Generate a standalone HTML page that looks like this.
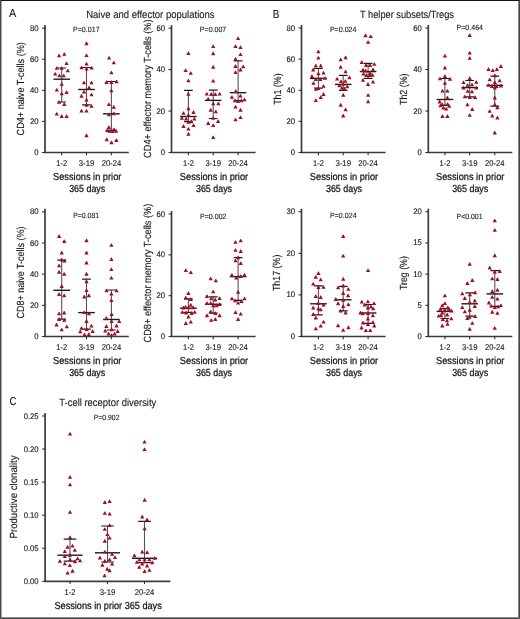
<!DOCTYPE html>
<html><head><meta charset="utf-8"><style>
html,body{margin:0;padding:0;background:#fff;}
body{width:520px;height:619px;overflow:hidden;position:relative;}
svg{position:absolute;left:0;top:0;display:block;will-change:transform;}
text{font-family:"Liberation Sans", sans-serif;text-rendering:geometricPrecision;stroke:#161616;stroke-width:0.25px;}
</style></head><body>
<svg width="520" height="619" viewBox="0 0 520 619">
<rect x="0" y="0" width="520" height="619" fill="#fff"/>
<g stroke="#3c3c3c" stroke-width="1.7" fill="none">
<path d="M45 25.10V152.50H128.80"/>
</g>
<g stroke="#2a2a2a" stroke-width="1.05" fill="none">
<path d="M42.00 152.50H45"/>
<path d="M42.00 121.40H45"/>
<path d="M42.00 90.30H45"/>
<path d="M42.00 59.20H45"/>
<path d="M42.00 28.10H45"/>
<path d="M61.70 152.50V155.30"/>
<path d="M86.50 152.50V155.30"/>
<path d="M111.40 152.50V155.30"/>
</g>
<text x="38.50" y="155.05" font-size="8.2" text-anchor="end" fill="#161616" textLength="4.30" lengthAdjust="spacingAndGlyphs" style="stroke-width:0.12px">0</text>
<text x="38.50" y="123.95" font-size="8.2" text-anchor="end" fill="#161616" textLength="8.60" lengthAdjust="spacingAndGlyphs" style="stroke-width:0.12px">20</text>
<text x="38.50" y="92.85" font-size="8.2" text-anchor="end" fill="#161616" textLength="8.60" lengthAdjust="spacingAndGlyphs" style="stroke-width:0.12px">40</text>
<text x="38.50" y="61.75" font-size="8.2" text-anchor="end" fill="#161616" textLength="8.60" lengthAdjust="spacingAndGlyphs" style="stroke-width:0.12px">60</text>
<text x="38.50" y="30.65" font-size="8.2" text-anchor="end" fill="#161616" textLength="8.60" lengthAdjust="spacingAndGlyphs" style="stroke-width:0.12px">80</text>
<text x="56.30" y="166.40" font-size="8.4" text-anchor="start" fill="#161616" textLength="10.80" lengthAdjust="spacingAndGlyphs" style="stroke-width:0.12px">1-2</text>
<text x="78.75" y="166.40" font-size="8.4" text-anchor="start" fill="#161616" textLength="15.50" lengthAdjust="spacingAndGlyphs" style="stroke-width:0.12px">3-19</text>
<text x="101.65" y="166.40" font-size="8.4" text-anchor="start" fill="#161616" textLength="19.50" lengthAdjust="spacingAndGlyphs" style="stroke-width:0.12px">20-24</text>
<g stroke="#1c1c1c" fill="none">
<path d="M61.70 68.00V102.00" stroke-width="1.1" stroke="#555"/>
<path d="M57.35 68.00H66.05M57.35 102.00H66.05" stroke-width="1.2"/>
<path d="M53.40 79.20H70.00" stroke-width="1.4"/>
<path d="M86.50 67.50V104.90" stroke-width="1.1" stroke="#555"/>
<path d="M82.15 67.50H90.85M82.15 104.90H90.85" stroke-width="1.2"/>
<path d="M78.20 89.50H94.80" stroke-width="1.4"/>
<path d="M111.40 81.50V130.30" stroke-width="1.1" stroke="#555"/>
<path d="M107.05 81.50H115.75M107.05 130.30H115.75" stroke-width="1.2"/>
<path d="M103.10 113.80H119.70" stroke-width="1.4"/>
</g>
<g fill="#9e0e27">
<path d="M57.00 57.27H61.20L59.45 53.93H58.75Z"/>
<path d="M62.20 55.77H66.40L64.65 52.43H63.95Z"/>
<path d="M64.50 64.98H68.70L66.95 61.63H66.25Z"/>
<path d="M54.70 69.77H58.90L57.15 66.42H56.45Z"/>
<path d="M59.60 69.77H63.80L62.05 66.42H61.35Z"/>
<path d="M65.70 72.37H69.90L68.15 69.02H67.45Z"/>
<path d="M53.10 75.57H57.30L55.55 72.22H54.85Z"/>
<path d="M57.30 77.27H61.50L59.75 73.92H59.05Z"/>
<path d="M61.60 77.27H65.80L64.05 73.92H63.35Z"/>
<path d="M59.60 85.77H63.80L62.05 82.42H61.35Z"/>
<path d="M54.70 91.57H58.90L57.15 88.22H56.45Z"/>
<path d="M64.50 93.97H68.70L66.95 90.62H66.25Z"/>
<path d="M59.60 95.27H63.80L62.05 91.92H61.35Z"/>
<path d="M57.00 103.77H61.20L59.45 100.42H58.75Z"/>
<path d="M62.20 105.97H66.40L64.65 102.62H63.95Z"/>
<path d="M54.70 115.57H58.90L57.15 112.22H56.45Z"/>
<path d="M59.60 117.97H63.80L62.05 114.62H61.35Z"/>
<path d="M64.50 117.97H68.70L66.95 114.62H66.25Z"/>
<path d="M84.40 45.17H88.60L86.85 41.83H86.15Z"/>
<path d="M84.40 56.98H88.60L86.85 53.63H86.15Z"/>
<path d="M84.40 65.48H88.60L86.85 62.13H86.15Z"/>
<path d="M79.40 69.27H83.60L81.85 65.92H81.15Z"/>
<path d="M89.60 69.57H93.80L92.05 66.22H91.35Z"/>
<path d="M84.40 70.57H88.60L86.85 67.22H86.15Z"/>
<path d="M81.90 84.37H86.10L84.35 81.02H83.65Z"/>
<path d="M89.40 84.37H93.60L91.85 81.02H91.15Z"/>
<path d="M87.00 89.27H91.20L89.45 85.92H88.75Z"/>
<path d="M81.90 93.57H86.10L84.35 90.22H83.65Z"/>
<path d="M89.40 96.27H93.60L91.85 92.92H91.15Z"/>
<path d="M79.40 97.67H83.60L81.85 94.33H81.15Z"/>
<path d="M84.40 101.57H88.60L86.85 98.22H86.15Z"/>
<path d="M84.40 106.67H88.60L86.85 103.33H86.15Z"/>
<path d="M89.40 107.77H93.60L91.85 104.42H91.15Z"/>
<path d="M79.40 112.57H83.60L81.85 109.22H81.15Z"/>
<path d="M84.40 112.57H88.60L86.85 109.22H86.15Z"/>
<path d="M84.40 137.18H88.60L86.85 133.82H86.15Z"/>
<path d="M107.00 59.57H111.20L109.45 56.23H108.75Z"/>
<path d="M111.70 64.28H115.90L114.15 60.93H113.45Z"/>
<path d="M109.30 74.37H113.50L111.75 71.02H111.05Z"/>
<path d="M104.40 83.97H108.60L106.85 80.62H106.15Z"/>
<path d="M109.30 83.97H113.50L111.75 80.62H111.05Z"/>
<path d="M114.50 83.27H118.70L116.95 79.92H116.25Z"/>
<path d="M109.30 92.37H113.50L111.75 89.02H111.05Z"/>
<path d="M106.80 106.07H111.00L109.25 102.72H108.55Z"/>
<path d="M111.70 108.67H115.90L114.15 105.33H113.45Z"/>
<path d="M106.80 116.37H111.00L109.25 113.02H108.55Z"/>
<path d="M111.70 115.17H115.90L114.15 111.83H113.45Z"/>
<path d="M106.80 128.88H111.00L109.25 125.52H108.55Z"/>
<path d="M105.00 131.88H109.20L107.45 128.52H106.75Z"/>
<path d="M107.50 132.78H111.70L109.95 129.42H109.25Z"/>
<path d="M110.50 132.97H114.70L112.95 129.62H112.25Z"/>
<path d="M112.00 131.18H116.20L114.45 127.83H113.75Z"/>
<path d="M113.90 132.68H118.10L116.35 129.32H115.65Z"/>
<path d="M104.60 141.18H108.80L107.05 137.82H106.35Z"/>
<path d="M114.30 141.88H118.50L116.75 138.52H116.05Z"/>
<path d="M109.40 144.18H113.60L111.85 140.82H111.15Z"/>
</g>
<g stroke="#3c3c3c" stroke-width="1.7" fill="none">
<path d="M171.5 25.20V152.50H255.60"/>
</g>
<g stroke="#2a2a2a" stroke-width="1.05" fill="none">
<path d="M168.50 152.50H171.5"/>
<path d="M168.50 111.07H171.5"/>
<path d="M168.50 69.63H171.5"/>
<path d="M168.50 28.20H171.5"/>
<path d="M188.40 152.50V155.30"/>
<path d="M213.20 152.50V155.30"/>
<path d="M238.10 152.50V155.30"/>
</g>
<text x="165.00" y="155.05" font-size="8.2" text-anchor="end" fill="#161616" textLength="4.30" lengthAdjust="spacingAndGlyphs" style="stroke-width:0.12px">0</text>
<text x="165.00" y="113.62" font-size="8.2" text-anchor="end" fill="#161616" textLength="8.60" lengthAdjust="spacingAndGlyphs" style="stroke-width:0.12px">20</text>
<text x="165.00" y="72.18" font-size="8.2" text-anchor="end" fill="#161616" textLength="8.60" lengthAdjust="spacingAndGlyphs" style="stroke-width:0.12px">40</text>
<text x="165.00" y="30.75" font-size="8.2" text-anchor="end" fill="#161616" textLength="8.60" lengthAdjust="spacingAndGlyphs" style="stroke-width:0.12px">60</text>
<text x="183.00" y="166.40" font-size="8.4" text-anchor="start" fill="#161616" textLength="10.80" lengthAdjust="spacingAndGlyphs" style="stroke-width:0.12px">1-2</text>
<text x="205.45" y="166.40" font-size="8.4" text-anchor="start" fill="#161616" textLength="15.50" lengthAdjust="spacingAndGlyphs" style="stroke-width:0.12px">3-19</text>
<text x="228.35" y="166.40" font-size="8.4" text-anchor="start" fill="#161616" textLength="19.50" lengthAdjust="spacingAndGlyphs" style="stroke-width:0.12px">20-24</text>
<g stroke="#1c1c1c" fill="none">
<path d="M188.40 90.40V121.60" stroke-width="1.1" stroke="#555"/>
<path d="M184.05 90.40H192.75M184.05 121.60H192.75" stroke-width="1.2"/>
<path d="M180.10 116.50H196.70" stroke-width="1.4"/>
<path d="M213.20 90.10V118.50" stroke-width="1.1" stroke="#555"/>
<path d="M208.85 90.10H217.55M208.85 118.50H217.55" stroke-width="1.2"/>
<path d="M204.90 100.40H221.50" stroke-width="1.4"/>
<path d="M238.10 60.80V100.50" stroke-width="1.1" stroke="#555"/>
<path d="M233.75 60.80H242.45M233.75 100.50H242.45" stroke-width="1.2"/>
<path d="M229.80 92.70H246.40" stroke-width="1.4"/>
</g>
<g fill="#9e0e27">
<path d="M186.30 54.88H190.50L188.75 51.53H188.05Z"/>
<path d="M183.50 72.07H187.70L185.95 68.72H185.25Z"/>
<path d="M188.60 74.87H192.80L191.05 71.52H190.35Z"/>
<path d="M186.30 82.27H190.50L188.75 78.92H188.05Z"/>
<path d="M186.30 95.67H190.50L188.75 92.33H188.05Z"/>
<path d="M186.30 110.17H190.50L188.75 106.83H188.05Z"/>
<path d="M181.40 114.77H185.60L183.85 111.42H183.15Z"/>
<path d="M191.40 113.97H195.60L193.85 110.62H193.15Z"/>
<path d="M186.30 116.77H190.50L188.75 113.42H188.05Z"/>
<path d="M179.80 119.87H184.00L182.25 116.52H181.55Z"/>
<path d="M184.00 120.57H188.20L186.45 117.22H185.75Z"/>
<path d="M189.10 123.17H193.30L191.55 119.83H190.85Z"/>
<path d="M192.30 120.57H196.50L194.75 117.22H194.05Z"/>
<path d="M186.30 123.67H190.50L188.75 120.33H188.05Z"/>
<path d="M181.40 127.97H185.60L183.85 124.62H183.15Z"/>
<path d="M191.40 127.07H195.60L193.85 123.72H193.15Z"/>
<path d="M186.30 130.58H190.50L188.75 127.23H188.05Z"/>
<path d="M186.30 135.68H190.50L188.75 132.32H188.05Z"/>
<path d="M211.10 47.98H215.30L213.55 44.63H212.85Z"/>
<path d="M211.10 55.17H215.30L213.55 51.83H212.85Z"/>
<path d="M211.10 68.67H215.30L213.55 65.33H212.85Z"/>
<path d="M211.10 82.57H215.30L213.55 79.22H212.85Z"/>
<path d="M204.70 95.57H208.90L207.15 92.22H206.45Z"/>
<path d="M209.10 95.97H213.30L211.55 92.62H210.85Z"/>
<path d="M213.20 95.97H217.40L215.65 92.62H214.95Z"/>
<path d="M217.50 95.57H221.70L219.95 92.22H219.25Z"/>
<path d="M206.10 100.57H210.30L208.55 97.22H207.85Z"/>
<path d="M211.10 105.27H215.30L213.55 101.92H212.85Z"/>
<path d="M216.30 105.27H220.50L218.75 101.92H218.05Z"/>
<path d="M208.60 111.67H212.80L211.05 108.33H210.35Z"/>
<path d="M213.70 113.27H217.90L216.15 109.92H215.45Z"/>
<path d="M211.10 119.87H215.30L213.55 116.52H212.85Z"/>
<path d="M206.10 124.97H210.30L208.55 121.62H207.85Z"/>
<path d="M216.00 122.97H220.20L218.45 119.62H217.75Z"/>
<path d="M211.10 127.07H215.30L213.55 123.72H212.85Z"/>
<path d="M211.10 139.08H215.30L213.55 135.72H212.85Z"/>
<path d="M236.00 39.98H240.20L238.45 36.63H237.75Z"/>
<path d="M233.40 47.98H237.60L235.85 44.63H235.15Z"/>
<path d="M238.40 48.98H242.60L240.85 45.63H240.15Z"/>
<path d="M238.40 56.07H242.60L240.85 52.73H240.15Z"/>
<path d="M233.40 60.67H237.60L235.85 57.33H235.15Z"/>
<path d="M233.40 67.97H237.60L235.85 64.62H235.15Z"/>
<path d="M241.10 68.37H245.30L243.55 65.02H242.85Z"/>
<path d="M238.40 71.47H242.60L240.85 68.12H240.15Z"/>
<path d="M233.40 74.07H237.60L235.85 70.72H235.15Z"/>
<path d="M233.70 92.97H237.90L236.15 89.62H235.45Z"/>
<path d="M229.80 98.77H234.00L232.25 95.42H231.55Z"/>
<path d="M238.40 97.57H242.60L240.85 94.22H240.15Z"/>
<path d="M232.90 102.17H237.10L235.35 98.83H234.65Z"/>
<path d="M236.00 102.97H240.20L238.45 99.62H237.75Z"/>
<path d="M239.40 102.17H243.60L241.85 98.83H241.15Z"/>
<path d="M242.40 101.37H246.60L244.85 98.02H244.15Z"/>
<path d="M233.40 108.57H237.60L235.85 105.22H235.15Z"/>
<path d="M238.40 111.67H242.60L240.85 108.33H240.15Z"/>
<path d="M233.40 121.37H237.60L235.85 118.02H235.15Z"/>
<path d="M238.40 119.07H242.60L240.85 115.72H240.15Z"/>
</g>
<g stroke="#3c3c3c" stroke-width="1.7" fill="none">
<path d="M301.5 25.00V152.50H385.60"/>
</g>
<g stroke="#2a2a2a" stroke-width="1.05" fill="none">
<path d="M298.50 152.50H301.5"/>
<path d="M298.50 121.38H301.5"/>
<path d="M298.50 90.25H301.5"/>
<path d="M298.50 59.12H301.5"/>
<path d="M298.50 28.00H301.5"/>
<path d="M318.40 152.50V155.30"/>
<path d="M343.20 152.50V155.30"/>
<path d="M368.10 152.50V155.30"/>
</g>
<text x="295.00" y="155.05" font-size="8.2" text-anchor="end" fill="#161616" textLength="4.30" lengthAdjust="spacingAndGlyphs" style="stroke-width:0.12px">0</text>
<text x="295.00" y="123.92" font-size="8.2" text-anchor="end" fill="#161616" textLength="8.60" lengthAdjust="spacingAndGlyphs" style="stroke-width:0.12px">20</text>
<text x="295.00" y="92.80" font-size="8.2" text-anchor="end" fill="#161616" textLength="8.60" lengthAdjust="spacingAndGlyphs" style="stroke-width:0.12px">40</text>
<text x="295.00" y="61.67" font-size="8.2" text-anchor="end" fill="#161616" textLength="8.60" lengthAdjust="spacingAndGlyphs" style="stroke-width:0.12px">60</text>
<text x="295.00" y="30.55" font-size="8.2" text-anchor="end" fill="#161616" textLength="8.60" lengthAdjust="spacingAndGlyphs" style="stroke-width:0.12px">80</text>
<text x="313.00" y="166.40" font-size="8.4" text-anchor="start" fill="#161616" textLength="10.80" lengthAdjust="spacingAndGlyphs" style="stroke-width:0.12px">1-2</text>
<text x="335.45" y="166.40" font-size="8.4" text-anchor="start" fill="#161616" textLength="15.50" lengthAdjust="spacingAndGlyphs" style="stroke-width:0.12px">3-19</text>
<text x="358.35" y="166.40" font-size="8.4" text-anchor="start" fill="#161616" textLength="19.50" lengthAdjust="spacingAndGlyphs" style="stroke-width:0.12px">20-24</text>
<g stroke="#1c1c1c" fill="none">
<path d="M318.40 68.50V88.20" stroke-width="1.1" stroke="#555"/>
<path d="M314.05 68.50H322.75M314.05 88.20H322.75" stroke-width="1.2"/>
<path d="M310.10 78.40H326.70" stroke-width="1.4"/>
<path d="M343.20 75.40V90.30" stroke-width="1.1" stroke="#555"/>
<path d="M338.85 75.40H347.55M338.85 90.30H347.55" stroke-width="1.2"/>
<path d="M334.90 84.40H351.50" stroke-width="1.4"/>
<path d="M368.10 63.30V78.40" stroke-width="1.1" stroke="#555"/>
<path d="M363.75 63.30H372.45M363.75 78.40H372.45" stroke-width="1.2"/>
<path d="M359.80 71.60H376.40" stroke-width="1.4"/>
</g>
<g fill="#9e0e27">
<path d="M316.30 53.27H320.50L318.75 49.93H318.05Z"/>
<path d="M316.30 59.48H320.50L318.75 56.13H318.05Z"/>
<path d="M313.70 67.47H317.90L316.15 64.12H315.45Z"/>
<path d="M318.60 67.47H322.80L321.05 64.12H320.35Z"/>
<path d="M311.10 71.47H315.30L313.55 68.12H312.85Z"/>
<path d="M316.30 75.17H320.50L318.75 71.83H318.05Z"/>
<path d="M321.40 74.57H325.60L323.85 71.22H323.15Z"/>
<path d="M309.80 77.97H314.00L312.25 74.62H311.55Z"/>
<path d="M322.90 79.77H327.10L325.35 76.42H324.65Z"/>
<path d="M313.70 80.97H317.90L316.15 77.62H315.45Z"/>
<path d="M318.30 80.97H322.50L320.75 77.62H320.05Z"/>
<path d="M311.40 84.87H315.60L313.85 81.52H313.15Z"/>
<path d="M321.40 87.77H325.60L323.85 84.42H323.15Z"/>
<path d="M313.90 90.77H318.10L316.35 87.42H315.65Z"/>
<path d="M316.30 90.07H320.50L318.75 86.72H318.05Z"/>
<path d="M321.40 95.97H325.60L323.85 92.62H323.15Z"/>
<path d="M318.60 98.97H322.80L321.05 95.62H320.35Z"/>
<path d="M313.70 102.07H317.90L316.15 98.72H315.45Z"/>
<path d="M343.50 59.17H347.70L345.95 55.83H345.25Z"/>
<path d="M338.60 61.27H342.80L341.05 57.93H340.35Z"/>
<path d="M338.60 68.67H342.80L341.05 65.33H340.35Z"/>
<path d="M343.50 73.37H347.70L345.95 70.02H345.25Z"/>
<path d="M347.30 79.17H351.50L349.75 75.83H349.05Z"/>
<path d="M335.00 80.57H339.20L337.45 77.22H336.75Z"/>
<path d="M338.90 83.07H343.10L341.35 79.72H340.65Z"/>
<path d="M343.30 82.87H347.50L345.75 79.52H345.05Z"/>
<path d="M337.30 87.27H341.50L339.75 83.92H339.05Z"/>
<path d="M341.20 85.77H345.40L343.65 82.42H342.95Z"/>
<path d="M345.10 88.17H349.30L347.55 84.83H346.85Z"/>
<path d="M339.80 89.57H344.00L342.25 86.22H341.55Z"/>
<path d="M342.30 90.47H346.50L344.75 87.12H344.05Z"/>
<path d="M341.10 96.67H345.30L343.55 93.33H342.85Z"/>
<path d="M338.60 106.67H342.80L341.05 103.33H340.35Z"/>
<path d="M343.50 111.27H347.70L345.95 107.92H345.25Z"/>
<path d="M341.10 117.47H345.30L343.55 114.12H342.85Z"/>
<path d="M363.40 37.17H367.60L365.85 33.83H365.15Z"/>
<path d="M368.60 37.98H372.80L371.05 34.63H370.35Z"/>
<path d="M366.00 43.77H370.20L368.45 40.43H367.75Z"/>
<path d="M359.60 63.88H363.80L362.05 60.53H361.35Z"/>
<path d="M372.20 65.87H376.40L374.65 62.52H373.95Z"/>
<path d="M363.90 66.97H368.10L366.35 63.62H365.65Z"/>
<path d="M368.00 66.97H372.20L370.45 63.62H369.75Z"/>
<path d="M360.90 71.67H365.10L363.35 68.33H362.65Z"/>
<path d="M363.40 72.47H367.60L365.85 69.12H365.15Z"/>
<path d="M370.90 71.37H375.10L373.35 68.02H372.65Z"/>
<path d="M361.40 75.57H365.60L363.85 72.22H363.15Z"/>
<path d="M364.30 76.97H368.50L366.75 73.62H366.05Z"/>
<path d="M368.00 74.77H372.20L370.45 71.42H369.75Z"/>
<path d="M367.70 76.97H371.90L370.15 73.62H369.45Z"/>
<path d="M370.40 76.77H374.60L372.85 73.42H372.15Z"/>
<path d="M360.90 81.87H365.10L363.35 78.52H362.65Z"/>
<path d="M370.90 83.57H375.10L373.35 80.22H372.65Z"/>
<path d="M365.90 85.97H370.10L368.35 82.62H367.65Z"/>
<path d="M366.00 96.87H370.20L368.45 93.52H367.75Z"/>
<path d="M366.00 103.27H370.20L368.45 99.92H367.75Z"/>
</g>
<g stroke="#3c3c3c" stroke-width="1.7" fill="none">
<path d="M428.3 25.00V152.50H512.30"/>
</g>
<g stroke="#2a2a2a" stroke-width="1.05" fill="none">
<path d="M425.30 152.50H428.3"/>
<path d="M425.30 111.00H428.3"/>
<path d="M425.30 69.50H428.3"/>
<path d="M425.30 28.00H428.3"/>
<path d="M444.90 152.50V155.30"/>
<path d="M469.70 152.50V155.30"/>
<path d="M494.80 152.50V155.30"/>
</g>
<text x="421.80" y="155.05" font-size="8.2" text-anchor="end" fill="#161616" textLength="4.30" lengthAdjust="spacingAndGlyphs" style="stroke-width:0.12px">0</text>
<text x="421.80" y="113.55" font-size="8.2" text-anchor="end" fill="#161616" textLength="8.60" lengthAdjust="spacingAndGlyphs" style="stroke-width:0.12px">20</text>
<text x="421.80" y="72.05" font-size="8.2" text-anchor="end" fill="#161616" textLength="8.60" lengthAdjust="spacingAndGlyphs" style="stroke-width:0.12px">40</text>
<text x="421.80" y="30.55" font-size="8.2" text-anchor="end" fill="#161616" textLength="8.60" lengthAdjust="spacingAndGlyphs" style="stroke-width:0.12px">60</text>
<text x="439.50" y="166.40" font-size="8.4" text-anchor="start" fill="#161616" textLength="10.80" lengthAdjust="spacingAndGlyphs" style="stroke-width:0.12px">1-2</text>
<text x="461.95" y="166.40" font-size="8.4" text-anchor="start" fill="#161616" textLength="15.50" lengthAdjust="spacingAndGlyphs" style="stroke-width:0.12px">3-19</text>
<text x="485.05" y="166.40" font-size="8.4" text-anchor="start" fill="#161616" textLength="19.50" lengthAdjust="spacingAndGlyphs" style="stroke-width:0.12px">20-24</text>
<g stroke="#1c1c1c" fill="none">
<path d="M444.90 78.50V105.40" stroke-width="1.1" stroke="#555"/>
<path d="M440.55 78.50H449.25M440.55 105.40H449.25" stroke-width="1.2"/>
<path d="M436.60 99.50H453.20" stroke-width="1.4"/>
<path d="M469.70 80.50V96.90" stroke-width="1.1" stroke="#555"/>
<path d="M465.35 80.50H474.05M465.35 96.90H474.05" stroke-width="1.2"/>
<path d="M461.40 87.60H478.00" stroke-width="1.4"/>
<path d="M494.80 76.20V106.20" stroke-width="1.1" stroke="#555"/>
<path d="M490.45 76.20H499.15M490.45 106.20H499.15" stroke-width="1.2"/>
<path d="M486.50 85.30H503.10" stroke-width="1.4"/>
</g>
<g fill="#9e0e27">
<path d="M442.80 57.57H447.00L445.25 54.23H444.55Z"/>
<path d="M442.80 69.47H447.00L445.25 66.12H444.55Z"/>
<path d="M442.80 77.97H447.00L445.25 74.62H444.55Z"/>
<path d="M437.90 80.27H442.10L440.35 76.92H439.65Z"/>
<path d="M447.90 80.67H452.10L450.35 77.33H449.65Z"/>
<path d="M442.80 84.87H447.00L445.25 81.52H444.55Z"/>
<path d="M440.40 92.57H444.60L442.85 89.22H442.15Z"/>
<path d="M445.30 92.57H449.50L447.75 89.22H447.05Z"/>
<path d="M445.30 99.47H449.50L447.75 96.12H447.05Z"/>
<path d="M437.50 103.47H441.70L439.95 100.12H439.25Z"/>
<path d="M440.00 105.87H444.20L442.45 102.52H441.75Z"/>
<path d="M438.30 107.27H442.50L440.75 103.92H440.05Z"/>
<path d="M445.50 105.87H449.70L447.95 102.52H447.25Z"/>
<path d="M447.10 107.87H451.30L449.55 104.52H448.85Z"/>
<path d="M441.30 109.47H445.50L443.75 106.12H443.05Z"/>
<path d="M444.10 110.57H448.30L446.55 107.22H445.85Z"/>
<path d="M440.40 117.97H444.60L442.85 114.62H442.15Z"/>
<path d="M445.30 117.97H449.50L447.75 114.62H447.05Z"/>
<path d="M467.60 36.88H471.80L470.05 33.53H469.35Z"/>
<path d="M467.60 54.57H471.80L470.05 51.23H469.35Z"/>
<path d="M467.60 59.77H471.80L470.05 56.43H469.35Z"/>
<path d="M467.60 79.97H471.80L470.05 76.62H469.35Z"/>
<path d="M461.40 84.07H465.60L463.85 80.72H463.15Z"/>
<path d="M474.20 83.77H478.40L476.65 80.42H475.95Z"/>
<path d="M465.60 86.87H469.80L468.05 83.52H467.35Z"/>
<path d="M469.90 86.37H474.10L472.35 83.02H471.65Z"/>
<path d="M461.40 89.47H465.60L463.85 86.12H463.15Z"/>
<path d="M474.20 89.47H478.40L476.65 86.12H475.95Z"/>
<path d="M465.60 92.87H469.80L468.05 89.52H467.35Z"/>
<path d="M469.90 93.27H474.10L472.35 89.92H471.65Z"/>
<path d="M462.70 98.37H466.90L465.15 95.02H464.45Z"/>
<path d="M467.60 98.97H471.80L470.05 95.62H469.35Z"/>
<path d="M473.00 98.97H477.20L475.45 95.62H474.75Z"/>
<path d="M465.30 106.37H469.50L467.75 103.02H467.05Z"/>
<path d="M470.20 110.97H474.40L472.65 107.62H471.95Z"/>
<path d="M467.60 116.87H471.80L470.05 113.52H469.35Z"/>
<path d="M498.80 67.97H503.00L501.25 64.62H500.55Z"/>
<path d="M486.40 70.97H490.60L488.85 67.62H488.15Z"/>
<path d="M490.70 72.07H494.90L493.15 68.72H492.45Z"/>
<path d="M494.80 70.97H499.00L497.25 67.62H496.55Z"/>
<path d="M492.70 77.17H496.90L495.15 73.83H494.45Z"/>
<path d="M487.60 81.27H491.80L490.05 77.92H489.35Z"/>
<path d="M497.60 82.27H501.80L500.05 78.92H499.35Z"/>
<path d="M492.70 84.07H496.90L495.15 80.72H494.45Z"/>
<path d="M486.40 86.87H490.60L488.85 83.52H488.15Z"/>
<path d="M489.90 87.97H494.10L492.35 84.62H491.65Z"/>
<path d="M494.50 87.97H498.70L496.95 84.62H496.25Z"/>
<path d="M498.80 87.47H503.00L501.25 84.12H500.55Z"/>
<path d="M492.70 89.47H496.90L495.15 86.12H494.45Z"/>
<path d="M492.70 99.47H496.90L495.15 96.12H494.45Z"/>
<path d="M492.70 106.37H496.90L495.15 103.02H494.45Z"/>
<path d="M495.30 109.17H499.50L497.75 105.83H497.05Z"/>
<path d="M487.60 112.87H491.80L490.05 109.52H489.35Z"/>
<path d="M490.20 117.47H494.40L492.65 114.12H491.95Z"/>
<path d="M495.30 119.47H499.50L497.75 116.12H497.05Z"/>
<path d="M492.70 134.38H496.90L495.15 131.02H494.45Z"/>
</g>
<g stroke="#3c3c3c" stroke-width="1.7" fill="none">
<path d="M45 208.80V336.50H128.80"/>
</g>
<g stroke="#2a2a2a" stroke-width="1.05" fill="none">
<path d="M42.00 336.50H45"/>
<path d="M42.00 305.32H45"/>
<path d="M42.00 274.15H45"/>
<path d="M42.00 242.98H45"/>
<path d="M42.00 211.80H45"/>
<path d="M61.70 336.50V339.30"/>
<path d="M86.50 336.50V339.30"/>
<path d="M111.40 336.50V339.30"/>
</g>
<text x="38.50" y="339.05" font-size="8.2" text-anchor="end" fill="#161616" textLength="4.30" lengthAdjust="spacingAndGlyphs" style="stroke-width:0.12px">0</text>
<text x="38.50" y="307.88" font-size="8.2" text-anchor="end" fill="#161616" textLength="8.60" lengthAdjust="spacingAndGlyphs" style="stroke-width:0.12px">20</text>
<text x="38.50" y="276.70" font-size="8.2" text-anchor="end" fill="#161616" textLength="8.60" lengthAdjust="spacingAndGlyphs" style="stroke-width:0.12px">40</text>
<text x="38.50" y="245.53" font-size="8.2" text-anchor="end" fill="#161616" textLength="8.60" lengthAdjust="spacingAndGlyphs" style="stroke-width:0.12px">60</text>
<text x="38.50" y="214.35" font-size="8.2" text-anchor="end" fill="#161616" textLength="8.60" lengthAdjust="spacingAndGlyphs" style="stroke-width:0.12px">80</text>
<text x="56.30" y="350.40" font-size="8.4" text-anchor="start" fill="#161616" textLength="10.80" lengthAdjust="spacingAndGlyphs" style="stroke-width:0.12px">1-2</text>
<text x="78.75" y="350.40" font-size="8.4" text-anchor="start" fill="#161616" textLength="15.50" lengthAdjust="spacingAndGlyphs" style="stroke-width:0.12px">3-19</text>
<text x="101.65" y="350.40" font-size="8.4" text-anchor="start" fill="#161616" textLength="19.50" lengthAdjust="spacingAndGlyphs" style="stroke-width:0.12px">20-24</text>
<g stroke="#1c1c1c" fill="none">
<path d="M61.70 260.10V319.20" stroke-width="1.1" stroke="#555"/>
<path d="M57.35 260.10H66.05M57.35 319.20H66.05" stroke-width="1.2"/>
<path d="M53.40 290.30H70.00" stroke-width="1.4"/>
<path d="M86.50 279.20V329.20" stroke-width="1.1" stroke="#555"/>
<path d="M82.15 279.20H90.85M82.15 329.20H90.85" stroke-width="1.2"/>
<path d="M78.20 312.60H94.80" stroke-width="1.4"/>
<path d="M111.40 290.00V330.00" stroke-width="1.1" stroke="#555"/>
<path d="M107.05 290.00H115.75M107.05 330.00H115.75" stroke-width="1.2"/>
<path d="M103.10 319.50H119.70" stroke-width="1.4"/>
</g>
<g fill="#9e0e27">
<path d="M57.00 237.97H61.20L59.45 234.62H58.75Z"/>
<path d="M62.10 242.97H66.30L64.55 239.62H63.85Z"/>
<path d="M59.60 254.47H63.80L62.05 251.12H61.35Z"/>
<path d="M59.60 261.38H63.80L62.05 258.03H61.35Z"/>
<path d="M62.40 262.48H66.60L64.85 259.12H64.15Z"/>
<path d="M57.00 267.28H61.20L59.45 263.93H58.75Z"/>
<path d="M57.00 273.68H61.20L59.45 270.32H58.75Z"/>
<path d="M62.10 275.68H66.30L64.55 272.32H63.85Z"/>
<path d="M59.60 287.98H63.80L62.05 284.62H61.35Z"/>
<path d="M57.00 295.98H61.20L59.45 292.62H58.75Z"/>
<path d="M62.10 297.18H66.30L64.55 293.82H63.85Z"/>
<path d="M57.00 315.28H61.20L59.45 311.93H58.75Z"/>
<path d="M62.10 314.38H66.30L64.55 311.03H63.85Z"/>
<path d="M57.00 320.98H61.20L59.45 317.62H58.75Z"/>
<path d="M62.10 321.78H66.30L64.55 318.43H63.85Z"/>
<path d="M54.40 326.38H58.60L56.85 323.03H56.15Z"/>
<path d="M64.70 328.28H68.90L67.15 324.93H66.45Z"/>
<path d="M59.60 331.28H63.80L62.05 327.93H61.35Z"/>
<path d="M84.40 242.18H88.60L86.85 238.82H86.15Z"/>
<path d="M84.40 254.47H88.60L86.85 251.12H86.15Z"/>
<path d="M84.40 264.48H88.60L86.85 261.12H86.15Z"/>
<path d="M84.40 275.68H88.60L86.85 272.32H86.15Z"/>
<path d="M84.40 283.18H88.60L86.85 279.82H86.15Z"/>
<path d="M84.40 292.08H88.60L86.85 288.73H86.15Z"/>
<path d="M82.10 298.38H86.30L84.55 295.03H83.85Z"/>
<path d="M86.80 297.18H91.00L89.25 293.82H88.55Z"/>
<path d="M82.10 314.08H86.30L84.55 310.73H83.85Z"/>
<path d="M86.80 315.28H91.00L89.25 311.93H88.55Z"/>
<path d="M84.40 322.98H88.60L86.85 319.62H86.15Z"/>
<path d="M89.30 327.58H93.50L91.75 324.23H91.05Z"/>
<path d="M79.40 329.78H83.60L81.85 326.43H81.15Z"/>
<path d="M84.50 330.88H88.70L86.95 327.53H86.25Z"/>
<path d="M78.20 333.28H82.40L80.65 329.93H79.95Z"/>
<path d="M90.50 332.88H94.70L92.95 329.53H92.25Z"/>
<path d="M82.40 336.38H86.60L84.85 333.03H84.15Z"/>
<path d="M86.70 335.98H90.90L89.15 332.62H88.45Z"/>
<path d="M109.30 246.78H113.50L111.75 243.42H111.05Z"/>
<path d="M109.30 260.98H113.50L111.75 257.62H111.05Z"/>
<path d="M109.30 271.08H113.50L111.75 267.73H111.05Z"/>
<path d="M109.30 279.58H113.50L111.75 276.23H111.05Z"/>
<path d="M104.40 292.28H108.60L106.85 288.93H106.15Z"/>
<path d="M114.50 292.28H118.70L116.95 288.93H116.25Z"/>
<path d="M109.30 295.58H113.50L111.75 292.23H111.05Z"/>
<path d="M109.30 302.08H113.50L111.75 298.73H111.05Z"/>
<path d="M109.50 315.88H113.70L111.95 312.53H111.25Z"/>
<path d="M104.30 319.78H108.50L106.75 316.43H106.05Z"/>
<path d="M117.10 323.08H121.30L119.55 319.73H118.85Z"/>
<path d="M109.50 323.08H113.70L111.95 319.73H111.25Z"/>
<path d="M104.30 327.98H108.50L106.75 324.62H106.05Z"/>
<path d="M114.40 327.48H118.60L116.85 324.12H116.15Z"/>
<path d="M109.50 331.18H113.70L111.95 327.82H111.25Z"/>
<path d="M103.20 332.38H107.40L105.65 329.03H104.95Z"/>
<path d="M115.60 332.88H119.80L118.05 329.53H117.35Z"/>
<path d="M106.50 335.48H110.70L108.95 332.12H108.25Z"/>
<path d="M109.50 336.98H113.70L111.95 333.62H111.25Z"/>
<path d="M112.50 335.48H116.70L114.95 332.12H114.25Z"/>
</g>
<g stroke="#3c3c3c" stroke-width="1.7" fill="none">
<path d="M171.5 211.00V336.50H255.60"/>
</g>
<g stroke="#2a2a2a" stroke-width="1.05" fill="none">
<path d="M168.50 336.50H171.5"/>
<path d="M168.50 295.67H171.5"/>
<path d="M168.50 254.83H171.5"/>
<path d="M168.50 214.00H171.5"/>
<path d="M188.40 336.50V339.30"/>
<path d="M213.20 336.50V339.30"/>
<path d="M238.10 336.50V339.30"/>
</g>
<text x="165.00" y="339.05" font-size="8.2" text-anchor="end" fill="#161616" textLength="4.30" lengthAdjust="spacingAndGlyphs" style="stroke-width:0.12px">0</text>
<text x="165.00" y="298.22" font-size="8.2" text-anchor="end" fill="#161616" textLength="8.60" lengthAdjust="spacingAndGlyphs" style="stroke-width:0.12px">20</text>
<text x="165.00" y="257.38" font-size="8.2" text-anchor="end" fill="#161616" textLength="8.60" lengthAdjust="spacingAndGlyphs" style="stroke-width:0.12px">40</text>
<text x="165.00" y="216.55" font-size="8.2" text-anchor="end" fill="#161616" textLength="8.60" lengthAdjust="spacingAndGlyphs" style="stroke-width:0.12px">60</text>
<text x="183.00" y="350.40" font-size="8.4" text-anchor="start" fill="#161616" textLength="10.80" lengthAdjust="spacingAndGlyphs" style="stroke-width:0.12px">1-2</text>
<text x="205.45" y="350.40" font-size="8.4" text-anchor="start" fill="#161616" textLength="15.50" lengthAdjust="spacingAndGlyphs" style="stroke-width:0.12px">3-19</text>
<text x="228.35" y="350.40" font-size="8.4" text-anchor="start" fill="#161616" textLength="19.50" lengthAdjust="spacingAndGlyphs" style="stroke-width:0.12px">20-24</text>
<g stroke="#1c1c1c" fill="none">
<path d="M188.40 298.80V312.30" stroke-width="1.1" stroke="#555"/>
<path d="M184.05 298.80H192.75M184.05 312.30H192.75" stroke-width="1.2"/>
<path d="M180.10 308.20H196.70" stroke-width="1.4"/>
<path d="M213.20 296.90V313.10" stroke-width="1.1" stroke="#555"/>
<path d="M208.85 296.90H217.55M208.85 313.10H217.55" stroke-width="1.2"/>
<path d="M204.90 304.30H221.50" stroke-width="1.4"/>
<path d="M238.10 257.70V300.30" stroke-width="1.1" stroke="#555"/>
<path d="M233.75 257.70H242.45M233.75 300.30H242.45" stroke-width="1.2"/>
<path d="M229.80 276.60H246.40" stroke-width="1.4"/>
</g>
<g fill="#9e0e27">
<path d="M183.70 272.08H187.90L186.15 268.73H185.45Z"/>
<path d="M188.70 274.08H192.90L191.15 270.73H190.45Z"/>
<path d="M186.30 294.88H190.50L188.75 291.53H188.05Z"/>
<path d="M183.70 299.48H187.90L186.15 296.12H185.45Z"/>
<path d="M188.70 300.98H192.90L191.15 297.62H190.45Z"/>
<path d="M188.70 306.68H192.90L191.15 303.32H190.45Z"/>
<path d="M183.40 308.68H187.60L185.85 305.32H185.15Z"/>
<path d="M186.40 309.18H190.60L188.85 305.82H188.15Z"/>
<path d="M191.10 309.18H195.30L193.55 305.82H192.85Z"/>
<path d="M181.40 309.48H185.60L183.85 306.12H183.15Z"/>
<path d="M180.30 313.78H184.50L182.75 310.43H182.05Z"/>
<path d="M184.00 314.38H188.20L186.45 311.03H185.75Z"/>
<path d="M189.50 314.88H193.70L191.95 311.53H191.25Z"/>
<path d="M192.60 313.78H196.80L195.05 310.43H194.35Z"/>
<path d="M186.30 318.38H190.50L188.75 315.03H188.05Z"/>
<path d="M183.70 324.88H187.90L186.15 321.53H185.45Z"/>
<path d="M188.70 323.58H192.90L191.15 320.23H190.45Z"/>
<path d="M208.60 280.28H212.80L211.05 276.93H210.35Z"/>
<path d="M213.70 282.28H217.90L216.15 278.93H215.45Z"/>
<path d="M211.10 293.28H215.30L213.55 289.93H212.85Z"/>
<path d="M204.90 297.98H209.10L207.35 294.62H206.65Z"/>
<path d="M209.10 300.28H213.30L211.55 296.93H210.85Z"/>
<path d="M213.20 301.48H217.40L215.65 298.12H214.95Z"/>
<path d="M217.50 299.98H221.70L219.95 296.62H219.25Z"/>
<path d="M204.90 304.88H209.10L207.35 301.53H206.65Z"/>
<path d="M208.60 304.88H212.80L211.05 301.53H210.35Z"/>
<path d="M211.10 307.18H215.30L213.55 303.82H212.85Z"/>
<path d="M214.40 307.18H218.60L216.85 303.82H216.15Z"/>
<path d="M217.50 306.08H221.70L219.95 302.73H219.25Z"/>
<path d="M208.60 313.28H212.80L211.05 309.93H210.35Z"/>
<path d="M213.20 314.88H217.40L215.65 311.53H214.95Z"/>
<path d="M204.90 317.18H209.10L207.35 313.82H206.65Z"/>
<path d="M217.50 317.18H221.70L219.95 313.82H219.25Z"/>
<path d="M209.10 321.78H213.30L211.55 318.43H210.85Z"/>
<path d="M213.20 320.98H217.40L215.65 317.62H214.95Z"/>
<path d="M233.40 243.78H237.60L235.85 240.42H235.15Z"/>
<path d="M238.60 242.28H242.80L241.05 238.92H240.35Z"/>
<path d="M233.40 251.78H237.60L235.85 248.42H235.15Z"/>
<path d="M238.60 252.97H242.80L241.05 249.62H240.35Z"/>
<path d="M236.00 259.18H240.20L238.45 255.82H237.75Z"/>
<path d="M233.40 262.28H237.60L235.85 258.93H235.15Z"/>
<path d="M238.60 264.88H242.80L241.05 261.53H240.35Z"/>
<path d="M229.80 276.68H234.00L232.25 273.32H231.55Z"/>
<path d="M234.10 279.48H238.30L236.55 276.12H235.85Z"/>
<path d="M238.60 277.98H242.80L241.05 274.62H240.35Z"/>
<path d="M242.40 276.68H246.60L244.85 273.32H244.15Z"/>
<path d="M236.00 293.78H240.20L238.45 290.43H237.75Z"/>
<path d="M229.80 300.28H234.00L232.25 296.93H231.55Z"/>
<path d="M232.90 302.28H237.10L235.35 298.93H234.65Z"/>
<path d="M236.00 304.58H240.20L238.45 301.23H237.75Z"/>
<path d="M239.40 302.98H243.60L241.85 299.62H241.15Z"/>
<path d="M242.40 300.28H246.60L244.85 296.93H244.15Z"/>
<path d="M233.40 314.08H237.60L235.85 310.73H235.15Z"/>
<path d="M238.60 315.58H242.80L241.05 312.23H240.35Z"/>
<path d="M236.00 320.98H240.20L238.45 317.62H237.75Z"/>
</g>
<g stroke="#3c3c3c" stroke-width="1.7" fill="none">
<path d="M301.5 208.75V336.50H385.60"/>
</g>
<g stroke="#2a2a2a" stroke-width="1.05" fill="none">
<path d="M298.50 336.50H301.5"/>
<path d="M298.50 294.92H301.5"/>
<path d="M298.50 253.33H301.5"/>
<path d="M298.50 211.75H301.5"/>
<path d="M318.40 336.50V339.30"/>
<path d="M343.20 336.50V339.30"/>
<path d="M368.10 336.50V339.30"/>
</g>
<text x="295.00" y="339.05" font-size="8.2" text-anchor="end" fill="#161616" textLength="4.30" lengthAdjust="spacingAndGlyphs" style="stroke-width:0.12px">0</text>
<text x="295.00" y="297.47" font-size="8.2" text-anchor="end" fill="#161616" textLength="8.60" lengthAdjust="spacingAndGlyphs" style="stroke-width:0.12px">10</text>
<text x="295.00" y="255.88" font-size="8.2" text-anchor="end" fill="#161616" textLength="8.60" lengthAdjust="spacingAndGlyphs" style="stroke-width:0.12px">20</text>
<text x="295.00" y="214.30" font-size="8.2" text-anchor="end" fill="#161616" textLength="8.60" lengthAdjust="spacingAndGlyphs" style="stroke-width:0.12px">30</text>
<text x="313.00" y="350.40" font-size="8.4" text-anchor="start" fill="#161616" textLength="10.80" lengthAdjust="spacingAndGlyphs" style="stroke-width:0.12px">1-2</text>
<text x="335.45" y="350.40" font-size="8.4" text-anchor="start" fill="#161616" textLength="15.50" lengthAdjust="spacingAndGlyphs" style="stroke-width:0.12px">3-19</text>
<text x="358.35" y="350.40" font-size="8.4" text-anchor="start" fill="#161616" textLength="19.50" lengthAdjust="spacingAndGlyphs" style="stroke-width:0.12px">20-24</text>
<g stroke="#1c1c1c" fill="none">
<path d="M318.40 285.80V314.90" stroke-width="1.1" stroke="#555"/>
<path d="M314.05 285.80H322.75M314.05 314.90H322.75" stroke-width="1.2"/>
<path d="M310.10 303.80H326.70" stroke-width="1.4"/>
<path d="M343.20 286.30V310.90" stroke-width="1.1" stroke="#555"/>
<path d="M338.85 286.30H347.55M338.85 310.90H347.55" stroke-width="1.2"/>
<path d="M334.90 299.80H351.50" stroke-width="1.4"/>
<path d="M368.10 304.70V323.30" stroke-width="1.1" stroke="#555"/>
<path d="M363.75 304.70H372.45M363.75 323.30H372.45" stroke-width="1.2"/>
<path d="M359.80 313.00H376.40" stroke-width="1.4"/>
</g>
<g fill="#9e0e27">
<path d="M316.30 274.88H320.50L318.75 271.53H318.05Z"/>
<path d="M313.70 278.68H317.90L316.15 275.32H315.45Z"/>
<path d="M318.60 281.28H322.80L321.05 277.93H320.35Z"/>
<path d="M311.10 285.58H315.30L313.55 282.23H312.85Z"/>
<path d="M316.30 288.98H320.50L318.75 285.62H318.05Z"/>
<path d="M321.40 288.78H325.60L323.85 285.43H323.15Z"/>
<path d="M313.70 297.98H317.90L316.15 294.62H315.45Z"/>
<path d="M318.60 298.98H322.80L321.05 295.62H320.35Z"/>
<path d="M316.30 304.88H320.50L318.75 301.53H318.05Z"/>
<path d="M321.40 306.38H325.60L323.85 303.03H323.15Z"/>
<path d="M311.10 309.48H315.30L313.55 306.12H312.85Z"/>
<path d="M316.30 310.28H320.50L318.75 306.93H318.05Z"/>
<path d="M318.60 311.28H322.80L321.05 307.93H320.35Z"/>
<path d="M311.10 315.98H315.30L313.55 312.62H312.85Z"/>
<path d="M313.70 319.48H317.90L316.15 316.12H315.45Z"/>
<path d="M321.40 323.58H325.60L323.85 320.23H323.15Z"/>
<path d="M318.60 327.58H322.80L321.05 324.23H320.35Z"/>
<path d="M313.70 330.28H317.90L316.15 326.93H315.45Z"/>
<path d="M341.10 237.97H345.30L343.55 234.62H342.85Z"/>
<path d="M341.10 257.57H345.30L343.55 254.22H342.85Z"/>
<path d="M341.10 280.68H345.30L343.55 277.32H342.85Z"/>
<path d="M341.10 287.38H345.30L343.55 284.03H342.85Z"/>
<path d="M336.00 289.28H340.20L338.45 285.93H337.75Z"/>
<path d="M346.20 290.78H350.40L348.65 287.43H347.95Z"/>
<path d="M341.10 294.88H345.30L343.55 291.53H342.85Z"/>
<path d="M346.00 297.18H350.20L348.45 293.82H347.75Z"/>
<path d="M333.70 300.98H337.90L336.15 297.62H335.45Z"/>
<path d="M341.10 301.78H345.30L343.55 298.43H342.85Z"/>
<path d="M336.00 305.18H340.20L338.45 301.82H337.75Z"/>
<path d="M346.30 306.08H350.50L348.75 302.73H348.05Z"/>
<path d="M341.10 307.98H345.30L343.55 304.62H342.85Z"/>
<path d="M338.60 312.58H342.80L341.05 309.23H340.35Z"/>
<path d="M343.50 314.38H347.70L345.95 311.03H345.25Z"/>
<path d="M336.00 327.18H340.20L338.45 323.82H337.75Z"/>
<path d="M346.30 329.18H350.50L348.75 325.82H348.05Z"/>
<path d="M341.10 331.78H345.30L343.55 328.43H342.85Z"/>
<path d="M366.00 272.08H370.20L368.45 268.73H367.75Z"/>
<path d="M359.70 303.58H363.90L362.15 300.23H361.45Z"/>
<path d="M365.80 303.28H370.00L368.25 299.93H367.55Z"/>
<path d="M371.90 305.08H376.10L374.35 301.73H373.65Z"/>
<path d="M362.60 306.48H366.80L365.05 303.12H364.35Z"/>
<path d="M365.80 309.38H370.00L368.25 306.03H367.55Z"/>
<path d="M368.90 308.58H373.10L371.35 305.23H370.65Z"/>
<path d="M371.10 310.28H375.30L373.55 306.93H372.85Z"/>
<path d="M358.30 314.38H362.50L360.75 311.03H360.05Z"/>
<path d="M360.60 315.18H364.80L363.05 311.82H362.35Z"/>
<path d="M365.80 314.98H370.00L368.25 311.62H367.55Z"/>
<path d="M370.80 317.28H375.00L373.25 313.93H372.55Z"/>
<path d="M365.80 320.48H370.00L368.25 317.12H367.55Z"/>
<path d="M360.90 324.48H365.10L363.35 321.12H362.65Z"/>
<path d="M370.80 323.98H375.00L373.25 320.62H372.55Z"/>
<path d="M365.80 325.98H370.00L368.25 322.62H367.55Z"/>
<path d="M372.20 327.48H376.40L374.65 324.12H373.95Z"/>
<path d="M359.40 329.48H363.60L361.85 326.12H361.15Z"/>
<path d="M363.80 332.08H368.00L366.25 328.73H365.55Z"/>
<path d="M368.10 332.08H372.30L370.55 328.73H369.85Z"/>
</g>
<g stroke="#3c3c3c" stroke-width="1.7" fill="none">
<path d="M428.3 208.75V336.50H512.30"/>
</g>
<g stroke="#2a2a2a" stroke-width="1.05" fill="none">
<path d="M425.30 336.50H428.3"/>
<path d="M425.30 305.31H428.3"/>
<path d="M425.30 274.12H428.3"/>
<path d="M425.30 242.94H428.3"/>
<path d="M425.30 211.75H428.3"/>
<path d="M444.90 336.50V339.30"/>
<path d="M469.70 336.50V339.30"/>
<path d="M494.80 336.50V339.30"/>
</g>
<text x="421.80" y="339.05" font-size="8.2" text-anchor="end" fill="#161616" textLength="4.30" lengthAdjust="spacingAndGlyphs" style="stroke-width:0.12px">0</text>
<text x="421.80" y="307.86" font-size="8.2" text-anchor="end" fill="#161616" textLength="4.30" lengthAdjust="spacingAndGlyphs" style="stroke-width:0.12px">5</text>
<text x="421.80" y="276.68" font-size="8.2" text-anchor="end" fill="#161616" textLength="8.60" lengthAdjust="spacingAndGlyphs" style="stroke-width:0.12px">10</text>
<text x="421.80" y="245.49" font-size="8.2" text-anchor="end" fill="#161616" textLength="8.60" lengthAdjust="spacingAndGlyphs" style="stroke-width:0.12px">15</text>
<text x="421.80" y="214.30" font-size="8.2" text-anchor="end" fill="#161616" textLength="8.60" lengthAdjust="spacingAndGlyphs" style="stroke-width:0.12px">20</text>
<text x="439.50" y="350.40" font-size="8.4" text-anchor="start" fill="#161616" textLength="10.80" lengthAdjust="spacingAndGlyphs" style="stroke-width:0.12px">1-2</text>
<text x="461.95" y="350.40" font-size="8.4" text-anchor="start" fill="#161616" textLength="15.50" lengthAdjust="spacingAndGlyphs" style="stroke-width:0.12px">3-19</text>
<text x="485.05" y="350.40" font-size="8.4" text-anchor="start" fill="#161616" textLength="19.50" lengthAdjust="spacingAndGlyphs" style="stroke-width:0.12px">20-24</text>
<g stroke="#1c1c1c" fill="none">
<path d="M444.90 308.60V318.50" stroke-width="1.1" stroke="#555"/>
<path d="M440.55 308.60H449.25M440.55 318.50H449.25" stroke-width="1.2"/>
<path d="M436.60 311.40H453.20" stroke-width="1.4"/>
<path d="M469.70 292.90V316.10" stroke-width="1.1" stroke="#555"/>
<path d="M465.35 292.90H474.05M465.35 316.10H474.05" stroke-width="1.2"/>
<path d="M461.40 303.80H478.00" stroke-width="1.4"/>
<path d="M494.80 270.70V306.30" stroke-width="1.1" stroke="#555"/>
<path d="M490.45 270.70H499.15M490.45 306.30H499.15" stroke-width="1.2"/>
<path d="M486.50 293.90H503.10" stroke-width="1.4"/>
</g>
<g fill="#9e0e27">
<path d="M442.80 297.28H447.00L445.25 293.93H444.55Z"/>
<path d="M442.80 305.08H447.00L445.25 301.73H444.55Z"/>
<path d="M440.20 307.18H444.40L442.65 303.82H441.95Z"/>
<path d="M445.70 309.18H449.90L448.15 305.82H447.45Z"/>
<path d="M438.30 310.68H442.50L440.75 307.32H440.05Z"/>
<path d="M446.90 310.68H451.10L449.35 307.32H448.65Z"/>
<path d="M442.50 311.78H446.70L444.95 308.43H444.25Z"/>
<path d="M449.20 312.38H453.40L451.65 309.03H450.95Z"/>
<path d="M440.20 314.38H444.40L442.65 311.03H441.95Z"/>
<path d="M436.70 317.58H440.90L439.15 314.23H438.45Z"/>
<path d="M439.00 317.08H443.20L441.45 313.73H440.75Z"/>
<path d="M445.10 316.48H449.30L447.55 313.12H446.85Z"/>
<path d="M440.80 321.08H445.00L443.25 317.73H442.55Z"/>
<path d="M449.20 320.28H453.40L451.65 316.93H450.95Z"/>
<path d="M444.90 322.28H449.10L447.35 318.93H446.65Z"/>
<path d="M445.40 325.78H449.60L447.85 322.43H447.15Z"/>
<path d="M440.20 327.48H444.40L442.65 324.12H441.95Z"/>
<path d="M467.60 265.78H471.80L470.05 262.43H469.35Z"/>
<path d="M470.20 281.88H474.40L472.65 278.53H471.95Z"/>
<path d="M465.30 284.98H469.50L467.75 281.62H467.05Z"/>
<path d="M460.20 295.28H464.40L462.65 291.93H461.95Z"/>
<path d="M473.00 294.18H477.20L475.45 290.82H474.75Z"/>
<path d="M467.80 296.28H472.00L470.25 292.93H469.55Z"/>
<path d="M462.70 299.88H466.90L465.15 296.53H464.45Z"/>
<path d="M472.70 302.48H476.90L475.15 299.12H474.45Z"/>
<path d="M467.60 303.98H471.80L470.05 300.62H469.35Z"/>
<path d="M460.20 309.08H464.40L462.65 305.73H461.95Z"/>
<path d="M472.70 307.98H476.90L475.15 304.62H474.45Z"/>
<path d="M467.60 311.68H471.80L470.05 308.32H469.35Z"/>
<path d="M462.70 313.28H466.90L465.15 309.93H464.45Z"/>
<path d="M473.00 317.98H477.20L475.45 314.62H474.75Z"/>
<path d="M465.30 319.88H469.50L467.75 316.53H467.05Z"/>
<path d="M467.60 318.78H471.80L470.05 315.43H469.35Z"/>
<path d="M470.20 324.78H474.40L472.65 321.43H471.95Z"/>
<path d="M467.60 330.68H471.80L470.05 327.32H469.35Z"/>
<path d="M492.70 222.28H496.90L495.15 218.92H494.45Z"/>
<path d="M492.70 231.78H496.90L495.15 228.42H494.45Z"/>
<path d="M492.70 257.18H496.90L495.15 253.82H494.45Z"/>
<path d="M487.60 269.48H491.80L490.05 266.12H489.35Z"/>
<path d="M492.70 273.68H496.90L495.15 270.32H494.45Z"/>
<path d="M497.60 272.98H501.80L500.05 269.62H499.35Z"/>
<path d="M490.20 280.28H494.40L492.65 276.93H491.95Z"/>
<path d="M495.30 280.98H499.50L497.75 277.62H497.05Z"/>
<path d="M490.20 292.98H494.40L492.65 289.62H491.95Z"/>
<path d="M495.30 291.68H499.50L497.75 288.32H497.05Z"/>
<path d="M490.20 298.78H494.40L492.65 295.43H491.95Z"/>
<path d="M495.30 300.58H499.50L497.75 297.23H497.05Z"/>
<path d="M486.80 304.48H491.00L489.25 301.12H488.55Z"/>
<path d="M489.10 307.58H493.30L491.55 304.23H490.85Z"/>
<path d="M492.70 309.08H496.90L495.15 305.73H494.45Z"/>
<path d="M496.10 308.28H500.30L498.55 304.93H497.85Z"/>
<path d="M498.80 307.08H503.00L501.25 303.73H500.55Z"/>
<path d="M490.20 313.68H494.40L492.65 310.32H491.95Z"/>
<path d="M495.30 314.78H499.50L497.75 311.43H497.05Z"/>
<path d="M492.70 329.78H496.90L495.15 326.43H494.45Z"/>
</g>
<g stroke="#3c3c3c" stroke-width="1.7" fill="none">
<path d="M45.1 413.00V581.30H170.40"/>
</g>
<g stroke="#2a2a2a" stroke-width="1.05" fill="none">
<path d="M42.10 581.30H45.1"/>
<path d="M42.10 548.24H45.1"/>
<path d="M42.10 515.18H45.1"/>
<path d="M42.10 482.12H45.1"/>
<path d="M42.10 449.06H45.1"/>
<path d="M42.10 416.00H45.1"/>
<path d="M70.00 581.30V584.10"/>
<path d="M107.50 581.30V584.10"/>
<path d="M144.50 581.30V584.10"/>
</g>
<text x="38.60" y="583.85" font-size="8.2" text-anchor="end" fill="#161616" textLength="14.90" lengthAdjust="spacingAndGlyphs" style="stroke-width:0.12px">0.00</text>
<text x="38.60" y="550.79" font-size="8.2" text-anchor="end" fill="#161616" textLength="14.90" lengthAdjust="spacingAndGlyphs" style="stroke-width:0.12px">0.05</text>
<text x="38.60" y="517.73" font-size="8.2" text-anchor="end" fill="#161616" textLength="14.90" lengthAdjust="spacingAndGlyphs" style="stroke-width:0.12px">0.10</text>
<text x="38.60" y="484.67" font-size="8.2" text-anchor="end" fill="#161616" textLength="14.90" lengthAdjust="spacingAndGlyphs" style="stroke-width:0.12px">0.15</text>
<text x="38.60" y="451.61" font-size="8.2" text-anchor="end" fill="#161616" textLength="14.90" lengthAdjust="spacingAndGlyphs" style="stroke-width:0.12px">0.20</text>
<text x="38.60" y="418.55" font-size="8.2" text-anchor="end" fill="#161616" textLength="14.90" lengthAdjust="spacingAndGlyphs" style="stroke-width:0.12px">0.25</text>
<text x="64.60" y="595.30" font-size="8.4" text-anchor="start" fill="#161616" textLength="10.80" lengthAdjust="spacingAndGlyphs" style="stroke-width:0.12px">1-2</text>
<text x="99.75" y="595.30" font-size="8.4" text-anchor="start" fill="#161616" textLength="15.50" lengthAdjust="spacingAndGlyphs" style="stroke-width:0.12px">3-19</text>
<text x="134.75" y="595.30" font-size="8.4" text-anchor="start" fill="#161616" textLength="19.50" lengthAdjust="spacingAndGlyphs" style="stroke-width:0.12px">20-24</text>
<g stroke="#1c1c1c" fill="none">
<path d="M70.00 539.20V561.10" stroke-width="1.1" stroke="#555"/>
<path d="M63.70 539.20H76.30M63.70 561.10H76.30" stroke-width="1.2"/>
<path d="M57.45 555.20H82.55" stroke-width="1.4"/>
<path d="M107.50 526.00V562.00" stroke-width="1.1" stroke="#555"/>
<path d="M101.20 526.00H113.80M101.20 562.00H113.80" stroke-width="1.2"/>
<path d="M94.95 552.80H120.05" stroke-width="1.4"/>
<path d="M144.50 521.30V562.70" stroke-width="1.1" stroke="#555"/>
<path d="M138.20 521.30H150.80M138.20 562.70H150.80" stroke-width="1.2"/>
<path d="M131.95 558.30H157.05" stroke-width="1.4"/>
</g>
<g fill="#9e0e27">
<path d="M67.90 435.53H72.10L70.35 432.18H69.65Z"/>
<path d="M67.90 478.78H72.10L70.35 475.43H69.65Z"/>
<path d="M67.90 486.28H72.10L70.35 482.93H69.65Z"/>
<path d="M67.90 513.77H72.10L70.35 510.43H69.65Z"/>
<path d="M67.90 539.07H72.10L70.35 535.73H69.65Z"/>
<path d="M65.50 548.67H69.70L67.95 545.33H67.25Z"/>
<path d="M70.40 547.48H74.60L72.85 544.13H72.15Z"/>
<path d="M62.70 552.98H66.90L65.15 549.63H64.45Z"/>
<path d="M72.70 551.77H76.90L75.15 548.43H74.45Z"/>
<path d="M67.70 556.67H71.90L70.15 553.33H69.45Z"/>
<path d="M62.70 557.98H66.90L65.15 554.63H64.45Z"/>
<path d="M75.40 560.27H79.60L77.85 556.93H77.15Z"/>
<path d="M57.80 562.77H62.00L60.25 559.43H59.55Z"/>
<path d="M68.00 561.57H72.20L70.45 558.23H69.75Z"/>
<path d="M72.90 563.17H77.10L75.35 559.83H74.65Z"/>
<path d="M78.00 562.27H82.20L80.45 558.93H79.75Z"/>
<path d="M62.70 565.27H66.90L65.15 561.93H64.45Z"/>
<path d="M67.70 567.07H71.90L70.15 563.73H69.45Z"/>
<path d="M65.50 574.57H69.70L67.95 571.23H67.25Z"/>
<path d="M70.40 572.67H74.60L72.85 569.33H72.15Z"/>
<path d="M102.70 503.88H106.90L105.15 500.53H104.45Z"/>
<path d="M107.50 503.08H111.70L109.95 499.73H109.25Z"/>
<path d="M102.70 514.77H106.90L105.15 511.43H104.45Z"/>
<path d="M107.50 515.48H111.70L109.95 512.13H109.25Z"/>
<path d="M107.50 526.98H111.70L109.95 523.63H109.25Z"/>
<path d="M102.70 530.77H106.90L105.15 527.43H104.45Z"/>
<path d="M105.30 536.07H109.50L107.75 532.73H107.05Z"/>
<path d="M107.50 539.48H111.70L109.95 536.13H109.25Z"/>
<path d="M102.70 542.67H106.90L105.15 539.33H104.45Z"/>
<path d="M102.70 553.57H106.90L105.15 550.23H104.45Z"/>
<path d="M110.00 555.77H114.20L112.45 552.43H111.75Z"/>
<path d="M97.80 559.38H102.00L100.25 556.03H99.55Z"/>
<path d="M112.90 558.98H117.10L115.35 555.63H114.65Z"/>
<path d="M102.70 562.67H106.90L105.15 559.33H104.45Z"/>
<path d="M107.50 561.27H111.70L109.95 557.93H109.25Z"/>
<path d="M100.30 566.67H104.50L102.75 563.33H102.05Z"/>
<path d="M110.00 565.57H114.20L112.45 562.23H111.75Z"/>
<path d="M105.10 570.67H109.30L107.55 567.33H106.85Z"/>
<path d="M107.50 572.17H111.70L109.95 568.83H109.25Z"/>
<path d="M102.40 577.27H106.60L104.85 573.93H104.15Z"/>
<path d="M142.40 443.53H146.60L144.85 440.18H144.15Z"/>
<path d="M142.40 451.03H146.60L144.85 447.68H144.15Z"/>
<path d="M142.50 501.68H146.70L144.95 498.32H144.25Z"/>
<path d="M140.10 518.38H144.30L142.55 515.03H141.85Z"/>
<path d="M145.00 521.27H149.20L147.45 517.93H146.75Z"/>
<path d="M142.50 530.27H146.70L144.95 526.93H144.25Z"/>
<path d="M140.10 553.57H144.30L142.55 550.23H141.85Z"/>
<path d="M145.00 553.98H149.20L147.45 550.63H146.75Z"/>
<path d="M132.30 557.17H136.50L134.75 553.83H134.05Z"/>
<path d="M152.70 559.77H156.90L155.15 556.43H154.45Z"/>
<path d="M137.40 561.27H141.60L139.85 557.93H139.15Z"/>
<path d="M142.50 561.27H146.70L144.95 557.93H144.25Z"/>
<path d="M147.30 561.27H151.50L149.75 557.93H149.05Z"/>
<path d="M134.80 563.77H139.00L137.25 560.43H136.55Z"/>
<path d="M150.20 564.17H154.40L152.65 560.83H151.95Z"/>
<path d="M140.10 565.57H144.30L142.55 562.23H141.85Z"/>
<path d="M145.00 567.38H149.20L147.45 564.03H146.75Z"/>
<path d="M137.10 568.77H141.30L139.55 565.43H138.85Z"/>
<path d="M142.50 572.88H146.70L144.95 569.53H144.25Z"/>
<path d="M147.30 571.77H151.50L149.75 568.43H149.05Z"/>
</g>
<text x="9.00" y="17.20" font-size="11.5" text-anchor="start" fill="#161616" textLength="7.30" lengthAdjust="spacingAndGlyphs" style="stroke-width:0.08px">A</text>
<text x="272.80" y="17.60" font-size="11.5" text-anchor="start" fill="#161616" textLength="6.60" lengthAdjust="spacingAndGlyphs" style="stroke-width:0.08px">B</text>
<text x="9.40" y="405.30" font-size="11.5" text-anchor="start" fill="#161616" textLength="7.00" lengthAdjust="spacingAndGlyphs" style="stroke-width:0.08px">C</text>
<text x="86.20" y="18.10" font-size="10.5" text-anchor="start" fill="#161616" textLength="128.40" lengthAdjust="spacingAndGlyphs" style="stroke-width:0.1px">Naive and effector populations</text>
<text x="360.00" y="18.30" font-size="10.5" text-anchor="start" fill="#161616" textLength="94.00" lengthAdjust="spacingAndGlyphs" style="stroke-width:0.1px">T helper subsets/Tregs</text>
<text x="59.30" y="405.50" font-size="10.5" text-anchor="start" fill="#161616" textLength="97.00" lengthAdjust="spacingAndGlyphs" style="stroke-width:0.1px">T-cell receptor diversity</text>
<text x="73.00" y="31.85" font-size="7.6" text-anchor="start" fill="#161616" textLength="26.60" lengthAdjust="spacingAndGlyphs" style="stroke-width:0.1px">P=0.017</text>
<text x="199.80" y="31.70" font-size="7.6" text-anchor="start" fill="#161616" textLength="26.50" lengthAdjust="spacingAndGlyphs" style="stroke-width:0.1px">P=0.007</text>
<text x="329.90" y="31.80" font-size="7.6" text-anchor="start" fill="#161616" textLength="26.60" lengthAdjust="spacingAndGlyphs" style="stroke-width:0.1px">P=0.024</text>
<text x="456.50" y="29.70" font-size="7.6" text-anchor="start" fill="#161616" textLength="26.50" lengthAdjust="spacingAndGlyphs" style="stroke-width:0.1px">P=0.464</text>
<text x="73.20" y="218.00" font-size="7.6" text-anchor="start" fill="#161616" textLength="26.00" lengthAdjust="spacingAndGlyphs" style="stroke-width:0.1px">P=0.081</text>
<text x="200.00" y="218.50" font-size="7.6" text-anchor="start" fill="#161616" textLength="26.50" lengthAdjust="spacingAndGlyphs" style="stroke-width:0.1px">P=0.002</text>
<text x="330.00" y="218.30" font-size="7.6" text-anchor="start" fill="#161616" textLength="26.60" lengthAdjust="spacingAndGlyphs" style="stroke-width:0.1px">P=0.024</text>
<text x="456.60" y="218.50" font-size="7.6" text-anchor="start" fill="#161616" textLength="25.90" lengthAdjust="spacingAndGlyphs" style="stroke-width:0.1px">P&lt;0.001</text>
<text x="93.80" y="420.30" font-size="7.6" text-anchor="start" fill="#161616" textLength="25.70" lengthAdjust="spacingAndGlyphs" style="stroke-width:0.1px">P=0.902</text>
<text x="23.90" y="135.40" font-size="10.3" text-anchor="start" fill="#161616" textLength="93.30" lengthAdjust="spacingAndGlyphs" style="stroke-width:0.12px" transform="rotate(-90 23.90 135.40)">CD4+ naive T-cells (%)</text>
<text x="151.00" y="157.90" font-size="10.3" text-anchor="start" fill="#161616" textLength="138.50" lengthAdjust="spacingAndGlyphs" style="stroke-width:0.12px" transform="rotate(-90 151.00 157.90)">CD4+ effector memory T-cells (%)</text>
<text x="280.60" y="104.80" font-size="10.3" text-anchor="start" fill="#161616" textLength="31.40" lengthAdjust="spacingAndGlyphs" style="stroke-width:0.12px" transform="rotate(-90 280.60 104.80)">Th1 (%)</text>
<text x="407.00" y="104.90" font-size="10.3" text-anchor="start" fill="#161616" textLength="31.30" lengthAdjust="spacingAndGlyphs" style="stroke-width:0.12px" transform="rotate(-90 407.00 104.90)">Th2 (%)</text>
<text x="23.90" y="318.50" font-size="10.3" text-anchor="start" fill="#161616" textLength="92.00" lengthAdjust="spacingAndGlyphs" style="stroke-width:0.12px" transform="rotate(-90 23.90 318.50)">CD8+ naive T-cells (%)</text>
<text x="151.00" y="342.50" font-size="10.3" text-anchor="start" fill="#161616" textLength="138.75" lengthAdjust="spacingAndGlyphs" style="stroke-width:0.12px" transform="rotate(-90 151.00 342.50)">CD8+ effector memory T-cells (%)</text>
<text x="280.10" y="291.10" font-size="10.3" text-anchor="start" fill="#161616" textLength="36.50" lengthAdjust="spacingAndGlyphs" style="stroke-width:0.12px" transform="rotate(-90 280.10 291.10)">Th17 (%)</text>
<text x="406.60" y="290.10" font-size="10.3" text-anchor="start" fill="#161616" textLength="34.00" lengthAdjust="spacingAndGlyphs" style="stroke-width:0.12px" transform="rotate(-90 406.60 290.10)">Treg (%)</text>
<text x="16.90" y="538.50" font-size="10.3" text-anchor="start" fill="#161616" textLength="83.10" lengthAdjust="spacingAndGlyphs" style="stroke-width:0.12px" transform="rotate(-90 16.90 538.50)">Productive clonality</text>
<text x="53.05" y="180.00" font-size="10.2" text-anchor="start" fill="#161616" textLength="68.30" lengthAdjust="spacingAndGlyphs">Sessions in prior</text>
<text x="69.15" y="191.80" font-size="10.2" text-anchor="start" fill="#161616" textLength="36.10" lengthAdjust="spacingAndGlyphs">365 days</text>
<text x="53.05" y="364.00" font-size="10.2" text-anchor="start" fill="#161616" textLength="68.30" lengthAdjust="spacingAndGlyphs">Sessions in prior</text>
<text x="69.15" y="375.80" font-size="10.2" text-anchor="start" fill="#161616" textLength="36.10" lengthAdjust="spacingAndGlyphs">365 days</text>
<text x="179.85" y="180.00" font-size="10.2" text-anchor="start" fill="#161616" textLength="68.30" lengthAdjust="spacingAndGlyphs">Sessions in prior</text>
<text x="195.95" y="191.80" font-size="10.2" text-anchor="start" fill="#161616" textLength="36.10" lengthAdjust="spacingAndGlyphs">365 days</text>
<text x="179.85" y="364.00" font-size="10.2" text-anchor="start" fill="#161616" textLength="68.30" lengthAdjust="spacingAndGlyphs">Sessions in prior</text>
<text x="195.95" y="375.80" font-size="10.2" text-anchor="start" fill="#161616" textLength="36.10" lengthAdjust="spacingAndGlyphs">365 days</text>
<text x="309.85" y="180.00" font-size="10.2" text-anchor="start" fill="#161616" textLength="68.30" lengthAdjust="spacingAndGlyphs">Sessions in prior</text>
<text x="325.95" y="191.80" font-size="10.2" text-anchor="start" fill="#161616" textLength="36.10" lengthAdjust="spacingAndGlyphs">365 days</text>
<text x="309.85" y="364.00" font-size="10.2" text-anchor="start" fill="#161616" textLength="68.30" lengthAdjust="spacingAndGlyphs">Sessions in prior</text>
<text x="325.95" y="375.80" font-size="10.2" text-anchor="start" fill="#161616" textLength="36.10" lengthAdjust="spacingAndGlyphs">365 days</text>
<text x="436.05" y="180.00" font-size="10.2" text-anchor="start" fill="#161616" textLength="68.30" lengthAdjust="spacingAndGlyphs">Sessions in prior</text>
<text x="452.15" y="191.80" font-size="10.2" text-anchor="start" fill="#161616" textLength="36.10" lengthAdjust="spacingAndGlyphs">365 days</text>
<text x="436.05" y="364.00" font-size="10.2" text-anchor="start" fill="#161616" textLength="68.30" lengthAdjust="spacingAndGlyphs">Sessions in prior</text>
<text x="452.15" y="375.80" font-size="10.2" text-anchor="start" fill="#161616" textLength="36.10" lengthAdjust="spacingAndGlyphs">365 days</text>
<text x="54.50" y="609.30" font-size="10.2" text-anchor="start" fill="#161616" textLength="107.25" lengthAdjust="spacingAndGlyphs">Sessions in prior 365 days</text>
<!-- frame -->
<rect x="0" y="0" width="520" height="1" fill="#111"/>
<rect x="0" y="0" width="1" height="619" fill="#4a4a4a"/>
<rect x="1" y="1" width="1" height="616" fill="#a8a8a8"/>
<rect x="519" y="0" width="1" height="619" fill="#444"/>
<rect x="518" y="1" width="1" height="616" fill="#8a8a8a"/>
<rect x="0" y="618" width="520" height="1" fill="#4a4a4a"/>
<rect x="1" y="617" width="518" height="1" fill="#8a8a8a"/>
</svg>
</body></html>
